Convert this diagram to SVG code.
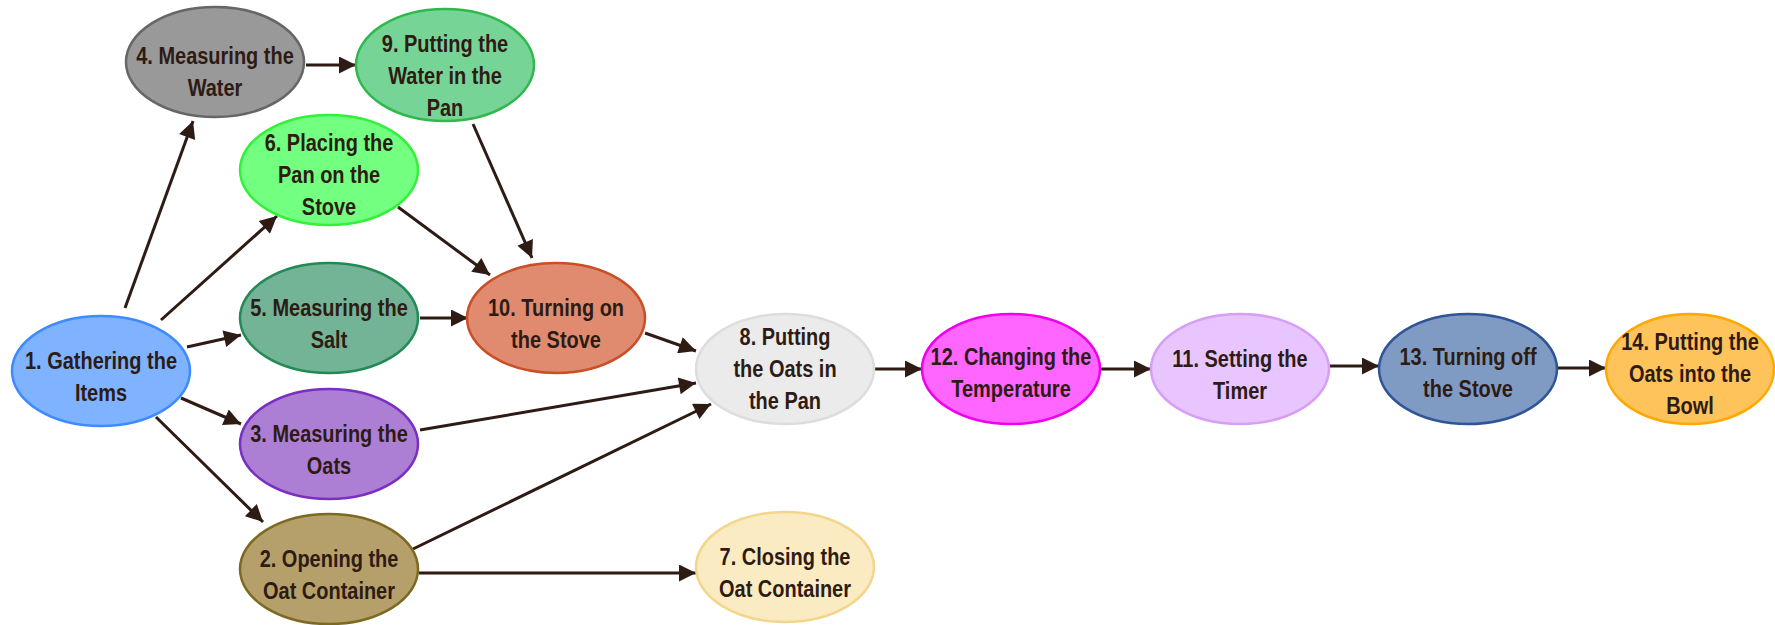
<svg xmlns="http://www.w3.org/2000/svg" width="1775" height="625" viewBox="0 0 1775 625">
<style>
.node ellipse{stroke-width:2.5}
.node text{font-family:"Liberation Sans",Arial,sans-serif;font-weight:bold;font-size:23.5px;fill:#2d1b14;text-anchor:middle}
.edge{stroke:#2d1b14;stroke-width:3;fill:none;marker-end:url(#arr)}
</style>
<defs>
<marker id="arr" viewBox="0 0 10 10" refX="10" refY="5" markerWidth="20" markerHeight="17" markerUnits="userSpaceOnUse" orient="auto">
<path d="M0,0 L10,5 L0,10 z" fill="#2d1b14"/>
</marker>
</defs>
<rect width="1775" height="625" fill="#ffffff"/>
<g id="connectors">
<line class="edge" x1="125" y1="308" x2="193" y2="121"/>
<line class="edge" x1="161" y1="320" x2="277" y2="216"/>
<line class="edge" x1="187" y1="347" x2="241" y2="335"/>
<line class="edge" x1="181" y1="398" x2="241" y2="424"/>
<line class="edge" x1="156" y1="417" x2="263" y2="522"/>
<line class="edge" x1="306" y1="65" x2="356" y2="65"/>
<line class="edge" x1="473" y1="124" x2="532" y2="258"/>
<line class="edge" x1="398" y1="207" x2="490" y2="275"/>
<line class="edge" x1="420" y1="318" x2="468" y2="318"/>
<line class="edge" x1="645" y1="333" x2="696" y2="351"/>
<line class="edge" x1="420" y1="430" x2="696" y2="383"/>
<line class="edge" x1="413" y1="549" x2="711" y2="404"/>
<line class="edge" x1="419" y1="573" x2="696" y2="573"/>
<line class="edge" x1="875" y1="369" x2="922" y2="369"/>
<line class="edge" x1="1101" y1="369" x2="1151" y2="369"/>
<line class="edge" x1="1330" y1="366" x2="1379" y2="366"/>
<line class="edge" x1="1558" y1="368" x2="1606" y2="368"/>
</g>
<g id="n1" class="node"><ellipse cx="101" cy="371" rx="89" ry="55" fill="#80b3ff" stroke="#3d8bff"/><text transform="translate(101,371) scale(0.85,1)"><tspan x="0" y="-2">1. Gathering the</tspan><tspan x="0" y="30">Items</tspan></text></g>
<g id="n2" class="node"><ellipse cx="329" cy="569" rx="89" ry="55" fill="#b5a06b" stroke="#7d6a22"/><text transform="translate(329,569) scale(0.85,1)"><tspan x="0" y="-2">2. Opening the</tspan><tspan x="0" y="30">Oat Container</tspan></text></g>
<g id="n3" class="node"><ellipse cx="329" cy="444" rx="89" ry="55" fill="#ad7fd4" stroke="#7a2fc0"/><text transform="translate(329,444) scale(0.85,1)"><tspan x="0" y="-2">3. Measuring the</tspan><tspan x="0" y="30">Oats</tspan></text></g>
<g id="n4" class="node"><ellipse cx="215" cy="62" rx="89" ry="55" fill="#999999" stroke="#666666"/><text transform="translate(215,62) scale(0.85,1)"><tspan x="0" y="2">4. Measuring the</tspan><tspan x="0" y="34">Water</tspan></text></g>
<g id="n5" class="node"><ellipse cx="329" cy="318" rx="89" ry="55" fill="#73b496" stroke="#238a55"/><text transform="translate(329,318) scale(0.85,1)"><tspan x="0" y="-2">5. Measuring the</tspan><tspan x="0" y="30">Salt</tspan></text></g>
<g id="n6" class="node"><ellipse cx="329" cy="170" rx="89" ry="55" fill="#73ff80" stroke="#33f03a"/><text transform="translate(329,170) scale(0.85,1)"><tspan x="0" y="-19">6. Placing the</tspan><tspan x="0" y="13">Pan on the</tspan><tspan x="0" y="45">Stove</tspan></text></g>
<g id="n7" class="node"><ellipse cx="785" cy="567" rx="89" ry="55" fill="#faebc2" stroke="#f2d68c"/><text transform="translate(785,567) scale(0.85,1)"><tspan x="0" y="-2">7. Closing the</tspan><tspan x="0" y="30">Oat Container</tspan></text></g>
<g id="n8" class="node"><ellipse cx="785" cy="369" rx="89" ry="55" fill="#ebebeb" stroke="#dddddd"/><text transform="translate(785,369) scale(0.85,1)"><tspan x="0" y="-24">8. Putting</tspan><tspan x="0" y="8">the Oats in</tspan><tspan x="0" y="40">the Pan</tspan></text></g>
<g id="n9" class="node"><ellipse cx="445" cy="65" rx="89" ry="56" fill="#77d497" stroke="#2fb84e"/><text transform="translate(445,65) scale(0.85,1)"><tspan x="0" y="-13">9. Putting the</tspan><tspan x="0" y="19">Water in the</tspan><tspan x="0" y="51">Pan</tspan></text></g>
<g id="n10" class="node"><ellipse cx="556" cy="318" rx="89" ry="55" fill="#e08b70" stroke="#c94f27"/><text transform="translate(556,318) scale(0.85,1)"><tspan x="0" y="-2">10. Turning on</tspan><tspan x="0" y="30">the Stove</tspan></text></g>
<g id="n11" class="node"><ellipse cx="1240" cy="369" rx="89" ry="55" fill="#e8c5ff" stroke="#d79ef6"/><text transform="translate(1240,369) scale(0.85,1)"><tspan x="0" y="-2">11. Setting the</tspan><tspan x="0" y="30">Timer</tspan></text></g>
<g id="n12" class="node"><ellipse cx="1011" cy="369" rx="89" ry="55" fill="#ff66ff" stroke="#ee00ee"/><text transform="translate(1011,369) scale(0.85,1)"><tspan x="0" y="-4">12. Changing the</tspan><tspan x="0" y="28">Temperature</tspan></text></g>
<g id="n13" class="node"><ellipse cx="1468" cy="369" rx="89" ry="55" fill="#7f9bc4" stroke="#2f5597"/><text transform="translate(1468,369) scale(0.85,1)"><tspan x="0" y="-4">13. Turning off</tspan><tspan x="0" y="28">the Stove</tspan></text></g>
<g id="n14" class="node"><ellipse cx="1690" cy="369" rx="84" ry="55" fill="#ffc35b" stroke="#ffa800"/><text transform="translate(1690,369) scale(0.85,1)"><tspan x="0" y="-19">14. Putting the</tspan><tspan x="0" y="13">Oats into the</tspan><tspan x="0" y="45">Bowl</tspan></text></g>
</svg>
